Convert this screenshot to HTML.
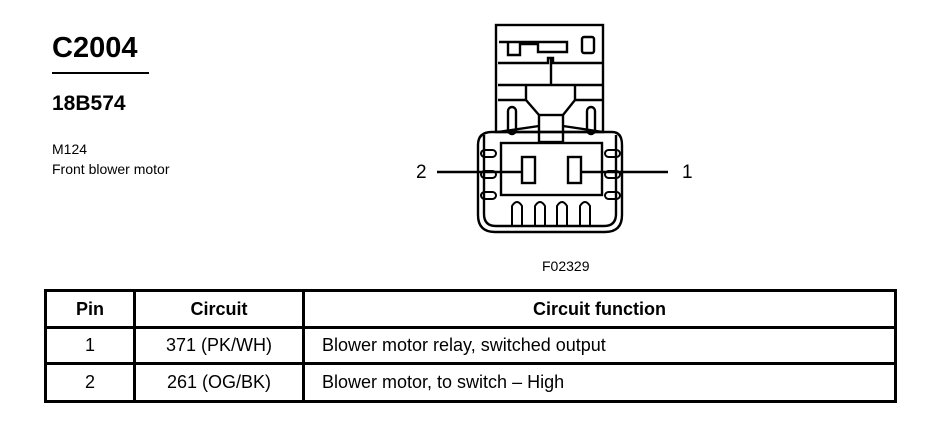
<!DOCTYPE html>
<html><head><style>
body{margin:0;background:#fff;width:940px;height:448px;overflow:hidden;position:relative;font-family:"Liberation Sans",Arial,sans-serif;color:#000}
.t{position:absolute;white-space:nowrap}
table{position:absolute;left:44px;top:289px;width:853px;border-collapse:collapse;font-size:18px}
td{border:3px solid #000;padding:0}
</style></head><body>
<div class="t" style="left:52px;top:32px;font-size:29px;font-weight:bold">C2004</div>
<div style="position:absolute;left:52px;top:72px;width:97px;height:2px;background:#000"></div>
<div class="t" style="left:52px;top:92px;font-size:21px;font-weight:bold">18B574</div>
<div class="t" style="left:52px;top:141px;font-size:14px">M124</div>
<div class="t" style="left:52px;top:161px;font-size:14px">Front blower motor</div>
<div class="t" style="left:416px;top:162px;font-size:19px">2</div>
<div class="t" style="left:682px;top:162px;font-size:19px">1</div>
<div class="t" style="left:542px;top:258px;font-size:14px">F02329</div>
<svg width="940" height="448" style="position:absolute;left:0;top:0" fill="none" stroke="#000" stroke-width="2.4">
<rect x="496" y="25" width="107" height="107"/>
<path d="M499 42 H567 V52 H538 V44 H520 V55 H508 V42"/>
<rect x="582" y="37" width="12" height="16" rx="2"/>
<path d="M498 63 H548 V58 H553 V63 H602"/>
<line x1="551" y1="58" x2="551" y2="85"/>
<line x1="498" y1="85" x2="602" y2="85"/>
<path d="M526 85 V100 L539 115 M575 85 V100 L563 115"/>
<line x1="498" y1="100" x2="526" y2="100"/><line x1="575" y1="100" x2="602" y2="100"/>
<rect x="539" y="115" width="24" height="27"/>
<path d="M498 132 L539 126 M563 126 L603 132"/>
<rect x="508" y="107" width="8" height="27" rx="4"/>
<rect x="587" y="107" width="8" height="27" rx="4"/>
<path d="M492 132 H612 Q622 132 622 145 V215 Q622 232 605 232 H495 Q478 232 478 215 V145 Q478 132 492 132 Z"/>
<path d="M484 135 V214 Q484 226 496 226 H604 Q616 226 616 214 V135"/>
<rect x="501" y="143" width="101" height="52"/>
<rect x="522" y="157" width="13" height="26"/>
<rect x="568" y="157" width="13" height="26"/>
<line x1="437" y1="172" x2="522" y2="172"/>
<line x1="581" y1="172" x2="668" y2="172"/>
<g stroke-width="2">
<rect x="481" y="150" width="15" height="7" rx="3.5"/><rect x="481" y="171" width="15" height="7" rx="3.5"/><rect x="481" y="192" width="15" height="7" rx="3.5"/>
<rect x="605" y="150" width="15" height="7" rx="3.5"/><rect x="605" y="171" width="15" height="7" rx="3.5"/><rect x="605" y="192" width="15" height="7" rx="3.5"/>
<path d="M512 226 V206 Q517 198 522 206 V226"/><path d="M535 226 V206 Q540 198 545 206 V226"/>
<path d="M557 226 V206 Q562 198 567 206 V226"/><path d="M580 226 V206 Q585 198 590 206 V226"/>
</g>
</svg>
<table>
<tr style="font-weight:bold"><td style="width:86px;text-align:center;height:34px">Pin</td><td style="width:166px;text-align:center">Circuit</td><td style="text-align:center">Circuit function</td></tr>
<tr><td style="text-align:center;height:33px">1</td><td style="text-align:center">371 (PK/WH)</td><td style="padding-left:17px">Blower motor relay, switched output</td></tr>
<tr><td style="text-align:center;height:35px">2</td><td style="text-align:center">261 (OG/BK)</td><td style="padding-left:17px">Blower motor, to switch – High</td></tr>
</table>
</body></html>
